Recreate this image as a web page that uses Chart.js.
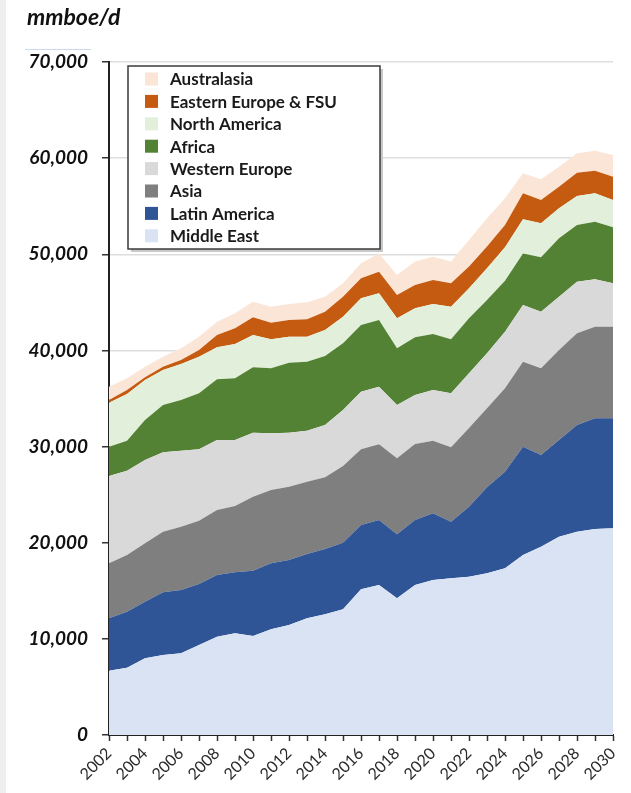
<!DOCTYPE html>
<html>
<head>
<meta charset="utf-8">
<script src="https://cdn.jsdelivr.net/npm/chart.js@4.4.1/dist/chart.umd.min.js"></script>
<style>
  html, body { margin: 0; padding: 0; background: #fff; }
  #wrap { position: relative; width: 631px; height: 793px; overflow: hidden; }
  #strip { position: absolute; left: 0; top: 0; width: 6px; height: 793px; background: #efefef; }
  #unit { position: absolute; left: 27px; top: 2px; font: italic bold 23px Lato, "DejaVu Sans", sans-serif; color: #111; }
  #uline { position: absolute; left: 25px; top: 49px; width: 66px; height: 1px; background: #c9d9ee; }
  #chartBox { position: absolute; left: 0; top: 0; width: 631px; height: 793px; }
</style>
</head>
<body>
<div id="wrap">
  <div id="strip"></div>
  <div id="chartBox"><canvas id="supplyChart"></canvas></div>
  <div id="unit">mmboe/d</div>
  <div id="uline"></div>
</div>
<script>
const years = ['2002','2003','2004','2005','2006','2007','2008','2009','2010','2011','2012','2013','2014','2015',
  '2016','2017','2018','2019','2020','2021','2022','2023','2024','2025','2026','2027','2028','2029','2030'];

// values per region, mmboe/d
const middleEast = [6690, 7000, 7980, 8320, 8500, 9360, 10230, 10580, 10300, 11000, 11440, 12140, 12550, 13070,
  15150, 15600, 14220, 15600, 16120, 16300, 16470, 16820, 17340, 18720, 19590, 20630, 21150, 21430, 21500];
const latinAmerica = [5450, 5830, 5890, 6520, 6580, 6350, 6410, 6340, 6790, 6860, 6760, 6690, 6800, 6930,
  6690, 6760, 6650, 6760, 6940, 5890, 7280, 8940, 10050, 11270, 9530, 10050, 11090, 11510, 11440];
const asia = [5720, 5890, 6070, 6310, 6590, 6580, 6760, 6900, 7700, 7620, 7630, 7520, 7450, 7980,
  7870, 7870, 7910, 7910, 7550, 7730, 8180, 8220, 8670, 8840, 9020, 9370, 9540, 9530, 9530];
const westernEurope = [9080, 8770, 8660, 8250, 7900, 7420, 7280, 6860, 6650, 5900, 5610, 5300, 5440, 5820,
  6000, 6000, 5540, 5090, 5280, 5620, 5690, 5720, 5890, 5890, 5890, 5540, 5370, 4930, 4510];
const africa = [3050, 3120, 4160, 4920, 5270, 5830, 6320, 6420, 6800, 6760, 7290, 7180, 7180, 6940,
  6940, 6940, 5900, 6010, 5820, 5620, 5720, 5550, 5300, 5370, 5660, 6070, 5900, 5990, 5830];
const northAmerica = [4580, 4860, 4170, 3650, 3750, 3810, 3320, 3570, 3370, 3020, 2700, 2600, 2710, 2770,
  2770, 2770, 3120, 3010, 3120, 3390, 3120, 3290, 3480, 3550, 3530, 3120, 3010, 2950, 2840];
const easternEurope = [270, 420, 270, 340, 410, 700, 1290, 1630, 1830, 1730, 1740, 1810, 1900, 2080,
  2080, 2250, 2430, 2430, 2500, 2430, 2260, 2260, 2320, 2700, 2430, 2250, 2430, 2360, 2420];
const australasia = [1390, 1210, 1110, 1040, 1220, 1380, 1380, 1560, 1630, 1660, 1660, 1760, 1560, 1390,
  1560, 1900, 2080, 2430, 2420, 2260, 2770, 2940, 2770, 2080, 2150, 2080, 2010, 2080, 2260];

const yMax = 70000;
const yStep = 10000;

function area(label, data, color, first) {
  return {
    label: label,
    data: data,
    backgroundColor: color,
    borderColor: color,
    borderWidth: 0,
    pointRadius: 0,
    fill: first ? 'origin' : '-1',
    tension: 0
  };
}

// legend box drawn inside the plot, top-left
const boxLegend = {
  id: 'boxLegend',
  afterDraw(chart) {
    const c = chart.ctx;
    const x0 = 128, y0 = 66, w = 252, h = 183;
    c.save();
    c.fillStyle = '#c8c8c8';
    c.fillRect(x0 + 3, y0 + 3, w, h);
    c.fillStyle = '#fff';
    c.fillRect(x0, y0, w, h);
    c.strokeStyle = '#3a3a3a';
    c.lineWidth = 1.5;
    c.strokeRect(x0, y0, w, h);
    const sets = chart.data.datasets.slice().reverse();
    c.font = 'bold 17px Lato, "DejaVu Sans", sans-serif';
    c.textBaseline = 'middle';
    sets.forEach((ds, i) => {
      const cy = 79 + i * 22.4;
      c.fillStyle = ds.backgroundColor;
      c.fillRect(145, cy - 6.5, 13, 13);
      c.fillStyle = '#1a1a1a';
      c.fillText(ds.label, 170, cy + 1);
    });
    c.restore();
  }
};

const ctx = document.getElementById('supplyChart').getContext('2d');
const supplyChart = new Chart(ctx, {
  type: 'line',
  data: {
    labels: years,
    datasets: [
      area('Middle East', middleEast, '#dae3f3', true),
      area('Latin America', latinAmerica, '#2f5597'),
      area('Asia', asia, '#7f7f7f'),
      area('Western Europe', westernEurope, '#d9d9d9'),
      area('Africa', africa, '#548235'),
      area('North America', northAmerica, '#e2efda'),
      area('Eastern Europe & FSU', easternEurope, '#c55a11'),
      area('Australasia', australasia, '#fbe5d6')
    ]
  },
  options: {
    responsive: true,
    maintainAspectRatio: false,
    animation: false,
    layout: { padding: { left: 0, right: 18, top: 62, bottom: 0 } },
    scales: {
      x: {
        offset: false,
        grid: { display: true, drawOnChartArea: false, tickLength: 6, tickColor: '#333', tickWidth: 1.5 },
        border: { color: '#222', width: 2 },
        ticks: {
          autoSkip: false,
          minRotation: 45,
          maxRotation: 45,
          padding: 3,
          color: '#2a2a2a',
          font: { family: 'Lato, "DejaVu Sans", sans-serif', size: 16 },
          callback: function (v, i) { return i % 2 === 0 ? this.getLabelForValue(v) : ''; }
        },
        afterFit: (s) => { s.height = 58; }
      },
      y: {
        stacked: true,
        min: 0,
        max: yMax,
        grid: { color: '#dedede', lineWidth: 1.5, tickLength: 7, tickColor: '#333', tickWidth: 1.5 },
        border: { color: '#222', width: 2 },
        ticks: {
          stepSize: yStep,
          padding: 14,
          color: '#111',
          font: { family: 'Lato, "DejaVu Sans", sans-serif', size: 19, style: 'italic', weight: 'bold' }
        },
        afterFit: (s) => { s.width = 109; }
      }
    },
    plugins: {
      legend: { display: false },
      tooltip: { enabled: false }
    }
  },
  plugins: [boxLegend]
});
</script>
</body>
</html>
